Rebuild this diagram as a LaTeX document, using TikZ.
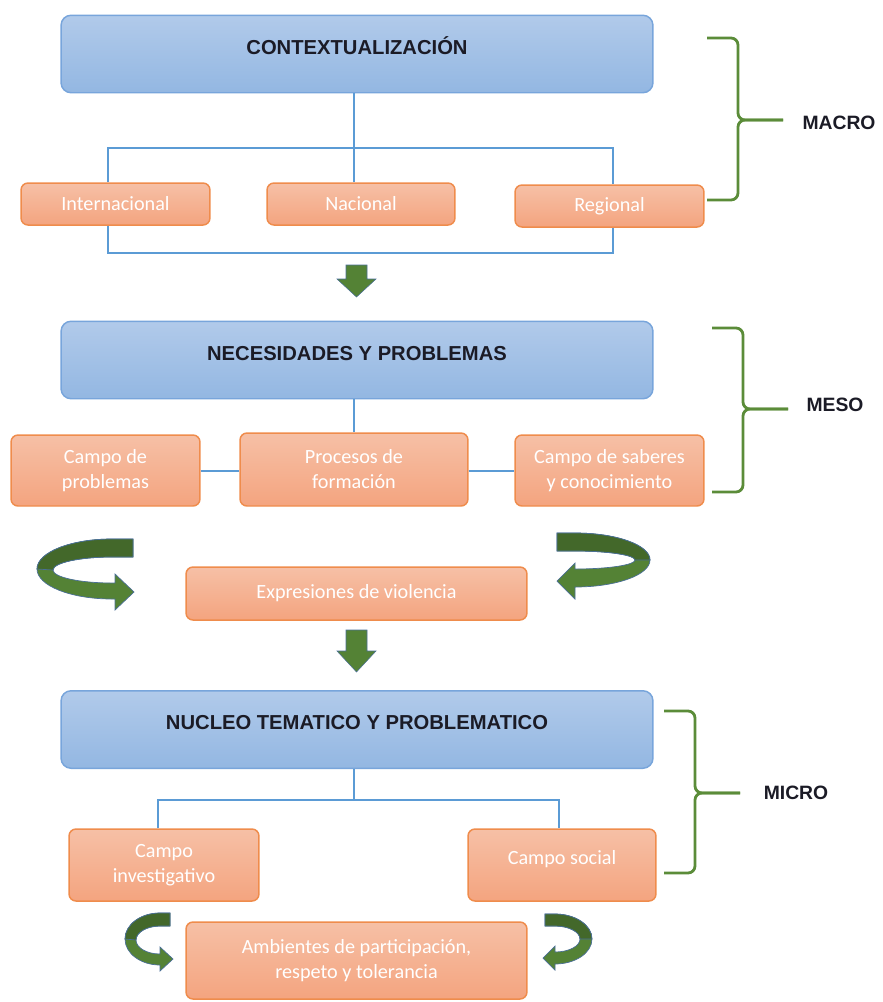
\documentclass[tikz,border=0pt]{standalone}
\usepackage{fontspec}
\setmainfont{Liberation Sans}
\newfontfamily\leaffont{Carlito}
\usepackage{tikz}
\usetikzlibrary{calc}

\definecolor{headtop}{HTML}{B1CAEA}
\definecolor{headbot}{HTML}{93B7E2}
\definecolor{headline}{HTML}{78A5DB}
\definecolor{leaftop}{HTML}{F6C0A6}
\definecolor{leafbot}{HTML}{F4A47F}
\definecolor{leafline}{HTML}{EF8C4C}
\definecolor{linkblue}{HTML}{5B9BD5}
\definecolor{turnlight}{HTML}{548235}
\definecolor{turndark}{HTML}{43682A}
\definecolor{turnedge}{HTML}{4A6F96}
\definecolor{bracecol}{HTML}{5B8C39}
\definecolor{headink}{HTML}{1B1B26}

\tikzset{
  headbox/.style={draw=headline, line width=0.85pt, rounded corners=0.2cm,
    top color=headtop, bottom color=headbot, minimum width=11.84cm, minimum height=1.55cm},
  headtext/.style={anchor=base, text=headink, font=\fontsize{11.5}{14}\selectfont\bfseries},
  leafbox/.style={draw=leafline, line width=0.85pt, rounded corners=0.14cm,
    top color=leaftop, bottom color=leafbot, text=white, align=center, inner sep=0pt,
    font=\leaffont\fontsize{11.5}{14.2}\selectfont},
  link/.style={draw=linkblue, line width=0.8pt},
  bracket/.style={draw=bracecol, line width=1.6pt, rounded corners=0.14cm},
  levellabel/.style={text=headink, font=\fontsize{11}{13}\selectfont\bfseries},
  downarrow/.style={fill=turnlight, draw=turnedge, line width=0.3pt},
  turnfull/.style={fill=turnlight, draw=turnedge, line width=0.4pt},
  turnback/.style={fill=turndark, draw=turnedge, line width=0.4pt}
}

\begin{document}
\begin{tikzpicture}[x=0.02cm,y=-0.02cm]
        \useasboundingbox (0,0) rectangle (883,1002);
        \coordinate (tl) at (108,148);
        \coordinate (tr) at (613,148);
        \coordinate (bl) at (108,253);
        \coordinate (br) at (613,253);
        \coordinate (ml) at (158,800);
        \coordinate (mr) at (559,800);
        \coordinate (mid) at (354,0);
        \coordinate (side) at (0,471);

        \node[headbox] (ctx) at (357,54) {};
        \node[headtext] (ctxt) at (ctx.center) {CONTEXTUALIZACIÓN};
        \node[leafbox, minimum width=3.78cm, minimum height=0.84cm] (intl) at (115.5,204) {Internacional};
        \node[leafbox, minimum width=3.76cm, minimum height=0.84cm] (nac) at (361,204) {Nacional};
        \node[leafbox, minimum width=3.78cm, minimum height=0.84cm] (reg) at (609.5,206) {Regional};
        \draw[link] (ctx.south -| mid) -- (nac.north -| mid);
        \draw[link] (intl.north -| tl) -- (tl) -- (tr) -- (reg.north -| tr);
        \draw[link] (intl.south -| bl) -- (bl) -- (br) -- (reg.south -| br);

        \node[headbox] (nec) at (357,360) {};
        \node[headtext] (nect) at (nec.center) {NECESIDADES Y PROBLEMAS};
        \node[leafbox, minimum width=3.78cm, minimum height=1.42cm] (cprob) at (105.5,470.5) {Campo de\\problemas};
        \node[leafbox, minimum width=4.56cm, minimum height=1.46cm] (proc) at (354,469.5) {Procesos de\\formación};
        \node[leafbox, minimum width=3.78cm, minimum height=1.42cm] (csab) at (609.5,470.5) {Campo de saberes\\y conocimiento};
        \draw[link] (nec.south -| proc.north) -- (proc.north);
        \draw[link] (cprob.east |- side) -- (proc.west |- side);
        \draw[link] (proc.east |- side) -- (csab.west |- side);
        \node[leafbox, minimum width=6.82cm, minimum height=1.06cm] (expr) at (356.5,593.5) {Expresiones de violencia};

        \node[headbox] (nuc) at (357,729.5) {};
        \node[headtext] (nuct) at (nuc.center) {NUCLEO TEMATICO Y PROBLEMATICO};
        \node[leafbox, minimum width=3.8cm, minimum height=1.44cm] (cinv) at (164,865) {Campo\\investigativo};
        \node[leafbox, minimum width=3.76cm, minimum height=1.44cm, text depth=9pt] (csoc) at (562,865) {Campo social};
        \draw[link] (nuc.south -| mid) -- (ml -| mid);
        \draw[link] (cinv.north -| ml) -- (ml) -- (mr) -- (csoc.north -| mr);
        \node[leafbox, minimum width=6.82cm, minimum height=1.54cm] (amb) at (356.5,960.5) {Ambientes de participación,\\respeto y tolerancia};

        \foreach \ya/\yb/\yc in {265/279/297, 630/651/672}
          \draw[downarrow] (346,\ya) -- (367,\ya) -- (367,\yb) -- (376,\yb) -- (356.5,\yc) -- (337,\yb) -- (346,\yb) -- cycle;

        \foreach \xa/\ya/\yb/\ym in {707/38/200/120, 712/328/492/409, 664/711/873/793} {
          \draw[bracket] (\xa,\ya) -- ({\xa+31},\ya) -- ({\xa+31},\ym) -- ({\xa+76},\ym);
          \draw[bracket] (\xa,\yb) -- ({\xa+31},\yb) -- ({\xa+31},\ym) -- ({\xa+76},\ym);
        }
        \node[levellabel] (lmacro) at (839,123) {MACRO};
        \node[levellabel] (lmeso) at (835,405) {MESO};
        \node[levellabel] (lmicro) at (796,793) {MICRO};

        \path[turnfull] (133,539) -- (112,539) arc[start angle=270, end angle=90, x radius=75, y radius=30]
          -- (115,599) -- (115,610) -- (134,592) -- (115,574) -- (115,583) -- (112,583)
          arc[start angle=90, end angle=270, x radius=59, y radius=13] -- (133,557) -- cycle;
        \path[turnback] (133,539) -- (112,539) arc[start angle=270, end angle=180, x radius=75, y radius=30]
          -- (53,570) arc[start angle=180, end angle=270, x radius=59, y radius=13] -- (133,557) -- cycle;

        \path[turnfull] (557,533) -- (575,533) arc[start angle=-90, end angle=90, x radius=75, y radius=27]
          -- (575,599) -- (557,581) -- (575,563) -- (575,569)
          arc[start angle=90, end angle=-90, x radius=60, y radius=9] -- (557,551) -- cycle;
        \path[turnback] (557,533) -- (575,533) arc[start angle=-90, end angle=0, x radius=75, y radius=27]
          -- (635,560) arc[start angle=0, end angle=-90, x radius=60, y radius=9] -- (557,551) -- cycle;

        \path[turnfull] (170,913) -- (160,913) arc[start angle=270, end angle=90, x radius=35, y radius=26]
          -- (160,971) -- (173,959) -- (160,947) -- (160,954)
          arc[start angle=90, end angle=270, x radius=24, y radius=14] -- (170,926) -- cycle;
        \path[turnback] (170,913) -- (160,913) arc[start angle=270, end angle=180, x radius=35, y radius=26]
          -- (136,940) arc[start angle=180, end angle=270, x radius=24, y radius=14] -- (170,926) -- cycle;

        \path[turnfull] (545,914) -- (555,914) arc[start angle=-90, end angle=90, x radius=37, y radius=25]
          -- (555,970) -- (543,958) -- (555,946) -- (555,952)
          arc[start angle=90, end angle=-90, x radius=25, y radius=13] -- (545,926) -- cycle;
        \path[turnback] (545,914) -- (555,914) arc[start angle=-90, end angle=0, x radius=37, y radius=25]
          -- (580,939) arc[start angle=0, end angle=-90, x radius=25, y radius=13] -- (545,926) -- cycle;
\end{tikzpicture}
\end{document}
